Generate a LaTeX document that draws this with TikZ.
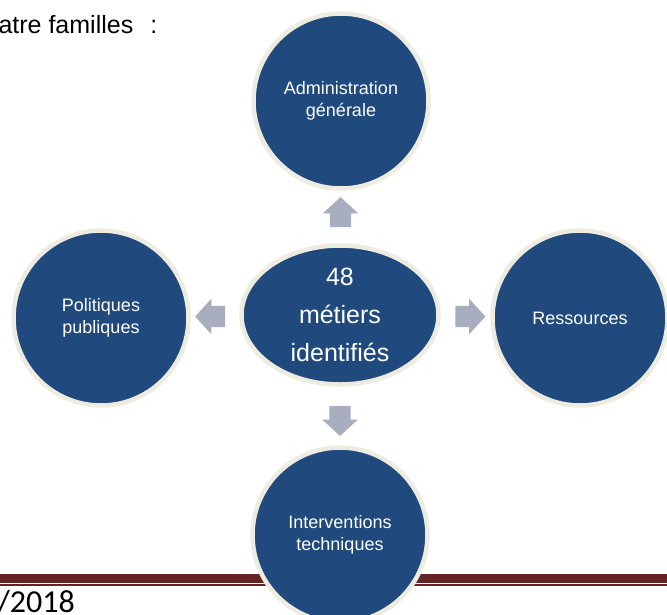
\documentclass[tikz,border=0pt]{standalone}
\usepackage{fontspec}
\setmainfont{Liberation Sans}
\newfontfamily\datefont{Carlito}
\usetikzlibrary{shapes.geometric,shapes.arrows,calc}

\definecolor{famblue}{RGB}{32,74,125}
\definecolor{famrim}{RGB}{238,236,225}
\definecolor{famarrow}{RGB}{168,174,192}
\definecolor{famred}{RGB}{99,36,35}

\begin{document}
\begin{tikzpicture}[x=1pt,y=-1pt,
	famille/.style={circle,fill=famblue,draw=famrim,line width=4.5pt,minimum size=175pt,inner sep=0pt,
		text=white,align=center,font=\fontsize{18}{21.5}\selectfont},
	centre/.style={ellipse,fill=famblue,draw=famrim,line width=4.5pt,minimum width=197pt,minimum height=139pt,
		inner sep=0pt,text=white,align=center,font=\fontsize{25}{38}\selectfont},
	fleche/.style={single arrow,fill=famarrow,draw=none,minimum height=30pt,inner xsep=0pt,inner ysep=10.5pt,
		single arrow head extend=7pt,single arrow tip angle=95}]
	\useasboundingbox (0,0) rectangle (667,614);
	% filet de bas de page
	\fill[famred] (0,573.5) rectangle (667,582.5);
	\fill[famred] (0,584) rectangle (667,586);
	\node[anchor=base west,font=\fontsize{25}{30}\selectfont] (titre) at (-5,33) {atre familles\hspace{17pt}:};
	\node[anchor=base west,font=\datefont\fontsize{32}{36}\selectfont] (date) at (-6,612) {/2018};
	% les quatre familles
	\node[centre] (metiers) at (340,315) {48\\métiers\\identifiés};
	\node[famille] (admin) at (341,101) {Administration\\générale};
	\node[famille] (ressources) at (580,318) {Ressources};
	\node[famille] (politiques) at (101,318) {Politiques\\publiques};
	\node[famille] (interventions) at (340,535) {Interventions\\techniques};
	% fleches
	\node[fleche,rotate=90] (versadmin) at ($(metiers.north)!0.5!(admin.south)$) {};
	\node[fleche] (versressources) at ($(metiers.east)!0.5!(ressources.west)$) {};
	\node[fleche,rotate=180] (verspolitiques) at ($(metiers.west)!0.5!(politiques.east)$) {};
	\node[fleche,rotate=-90] (versinterventions) at ($(metiers.south)!0.5!(interventions.north)$) {};
\end{tikzpicture}
\end{document}
